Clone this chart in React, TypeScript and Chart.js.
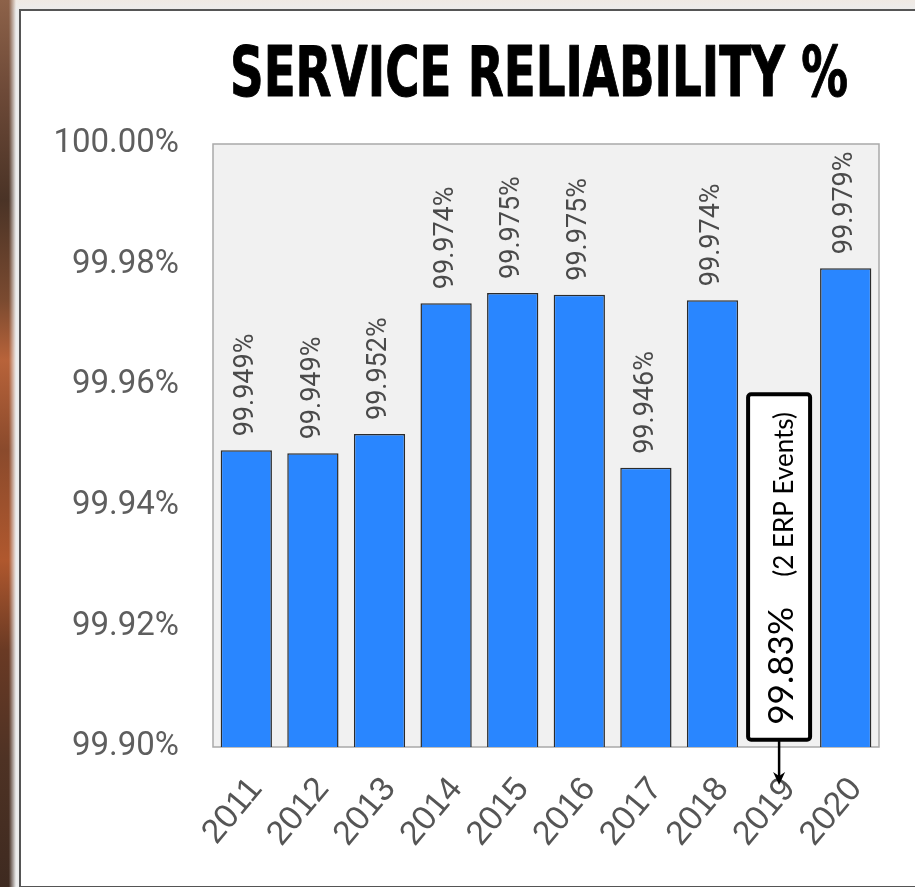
import React, { useEffect, useRef } from "react";
import { Chart, registerables } from "chart.js";

Chart.register(...registerables);

const categories = ["2011", "2012", "2013", "2014", "2015", "2016", "2017", "2018", "2019", "2020"];
const reliability = [99.9492, 99.9487, 99.9519, 99.9736, 99.9753, 99.975, 99.9463, 99.9741, 99.83, 99.9794];
const yTickValues = [99.9, 99.92, 99.94, 99.96, 99.98, 100.0];
const titleText = "SERVICE RELIABILITY %";
const noteIndex = 8;
const noteValue = "99.83%";
const noteText = "(2 ERP Events)";
const noteTop = 99.9585;
const noteBottom = 99.9012;

const Y_MIN = 99.9;
const Y_MAX = 100.0;

const W = 915;
const H = 887;

export default function App() {
  const ref = useRef<HTMLCanvasElement | null>(null);

  useEffect(() => {
    const canvas = ref.current;
    if (!canvas) return;

    const plotBg = {
      id: "plotBg",
      beforeDatasetsDraw(chart: any) {
        const { ctx, chartArea: a } = chart;
        ctx.save();
        ctx.fillStyle = "#f1f1f1";
        ctx.fillRect(a.left, a.top, a.right - a.left, a.bottom - a.top);
        ctx.strokeStyle = "#a9a9a9";
        ctx.lineWidth = 1.5;
        ctx.strokeRect(a.left, a.top, a.right - a.left, a.bottom - a.top);
        ctx.restore();
      },
    };

    const titlePlugin = {
      id: "titleDraw",
      afterDraw(chart: any) {
        const { ctx } = chart;
        ctx.save();
        ctx.font = 'bold 70px "DejaVu Sans Condensed", "Liberation Sans Narrow", sans-serif';
        const w = ctx.measureText(titleText).width;
        const sx = 618 / w;
        ctx.translate(539, 96);
        ctx.scale(sx, 1);
        ctx.textAlign = "center";
        ctx.textBaseline = "alphabetic";
        ctx.fillStyle = "#000";
        ctx.lineWidth = 1;
        ctx.strokeStyle = "#000";
        ctx.lineJoin = "round";
        ctx.strokeText(titleText, 0, 0);
        ctx.fillText(titleText, 0, 0);
        ctx.restore();
      },
    };

    const valueLabels = {
      id: "valueLabels",
      afterDatasetsDraw(chart: any) {
        const { ctx } = chart;
        const meta = chart.getDatasetMeta(0);
        ctx.save();
        ctx.font = '27px Roboto, sans-serif';
        ctx.fillStyle = "#4a4a4a";
        ctx.textAlign = "left";
        ctx.textBaseline = "middle";
        meta.data.forEach((bar: any, i: number) => {
          const v = reliability[i];
          if (v < Y_MIN) return;
          ctx.save();
          ctx.translate(bar.x, bar.y - 14);
          ctx.rotate(-Math.PI / 2);
          ctx.fillText(v.toFixed(3) + "%", 0, 0);
          ctx.restore();
        });
        ctx.restore();
      },
    };

    const fitFont = (ctx: any, text: string, target: number, family: string) => {
      ctx.font = `20px ${family}`;
      const w = ctx.measureText(text).width;
      const size = (20 * target) / w;
      ctx.font = `${size.toFixed(1)}px ${family}`;
      return size;
    };

    const notePlugin = {
      id: "note",
      afterDraw(chart: any) {
        const { ctx, scales, chartArea } = chart;
        const cx = scales.x.getPixelForValue(noteIndex);
        const top = scales.y.getPixelForValue(noteTop);
        const bottom = scales.y.getPixelForValue(noteBottom);
        const bw = 62;
        ctx.save();
        const tipY = chartArea.bottom + 38;
        ctx.strokeStyle = "#000";
        ctx.lineWidth = 2.5;
        ctx.beginPath();
        ctx.moveTo(cx, bottom);
        ctx.lineTo(cx, tipY - 8);
        ctx.stroke();
        ctx.fillStyle = "#000";
        ctx.beginPath();
        ctx.moveTo(cx - 6, tipY - 13);
        ctx.lineTo(cx, tipY - 9);
        ctx.lineTo(cx + 6, tipY - 13);
        ctx.lineTo(cx, tipY);
        ctx.closePath();
        ctx.fill();
        const x0 = cx - bw / 2;
        ctx.fillStyle = "#fff";
        ctx.strokeStyle = "#000";
        ctx.lineWidth = 4;
        ctx.beginPath();
        if ((ctx as any).roundRect) (ctx as any).roundRect(x0, top, bw, bottom - top, 3);
        else ctx.rect(x0, top, bw, bottom - top);
        ctx.fill();
        ctx.stroke();
        const fam = 'Lato, "Open Sans", sans-serif';
        ctx.translate(cx + 14, bottom - 15);
        ctx.rotate(-Math.PI / 2);
        ctx.textAlign = "left";
        ctx.textBaseline = "alphabetic";
        ctx.fillStyle = "#000";
        fitFont(ctx, noteValue, 118, fam);
        ctx.fillText(noteValue, 0, 0);
        fitFont(ctx, noteText, 165, fam);
        ctx.fillText(noteText, 148, 0);
        ctx.restore();
      },
    };

    const chart = new Chart(canvas, {
      type: "bar",
      data: {
        labels: categories,
        datasets: [
          {
            data: reliability.map((v) => (v < Y_MIN ? null : v)),
            backgroundColor: "#2986ff",
            borderColor: "#2b2b2b",
            borderWidth: 1.5,
            barPercentage: 0.77,
            categoryPercentage: 1,
          },
        ],
      },
      options: {
        responsive: false,
        animation: false,
        events: [],
        layout: { padding: { top: 144, right: 36, left: 0, bottom: 0 } },
        plugins: {
          legend: { display: false },
          tooltip: { enabled: false },
          title: { display: false },
        },
        scales: {
          x: {
            grid: { display: false },
            border: { display: false },
            ticks: {
              autoSkip: false,
              minRotation: 50,
              maxRotation: 50,
              padding: 15,
              labelOffset: 10,
              color: "#555",
              font: { family: '"Liberation Sans", Arial, sans-serif', size: 34 },
            },
            afterFit(scale: any) {
              scale.height = 140;
            },
          },
          y: {
            min: Y_MIN,
            max: Y_MAX,
            grid: { display: false },
            border: { display: false },
            afterBuildTicks(scale: any) {
              scale.ticks = yTickValues.map((v) => ({ value: v }));
            },
            ticks: {
              padding: 26,
              color: "#5e5e5e",
              font: { family: "Roboto, sans-serif", size: 33 },
              callback: (v: any) => Number(v).toFixed(2) + "%",
            },
            afterFit(scale: any) {
              scale.width = 213;
            },
          },
        },
      },
      plugins: [plotBg, valueLabels, notePlugin, titlePlugin],
    });

    return () => chart.destroy();
  }, []);

  return (
    <div
      style={{
        position: "fixed",
        left: 0,
        top: 0,
        width: W,
        height: H,
        overflow: "hidden",
        background: "linear-gradient(to bottom, #efe9e3 0px, #ececec 10px)",
      }}
    >
      <div
        style={{
          position: "absolute",
          left: 0,
          top: 0,
          width: 16,
          height: H,
          background:
            "linear-gradient(to bottom, #8d6249 0px, #6e4a38 90px, #4a3326 200px, #7a4a30 300px, #b8633a 360px, #8a4a2c 450px, #b0582e 560px, #6a3a24 650px, #4e3224 760px, #3e2a20 887px)",
          WebkitMaskImage: "linear-gradient(to right, black 55%, transparent 100%)",
          maskImage: "linear-gradient(to right, black 55%, transparent 100%)",
        }}
      />
      <div
        style={{
          position: "absolute",
          left: 19,
          top: 9,
          width: 1000,
          height: 875,
          border: "2px solid #555",
          background: "#fff",
        }}
      />
      <canvas
        ref={ref}
        width={W}
        height={H}
        style={{ position: "absolute", left: 0, top: 0, width: W, height: H }}
      />
    </div>
  );
}
